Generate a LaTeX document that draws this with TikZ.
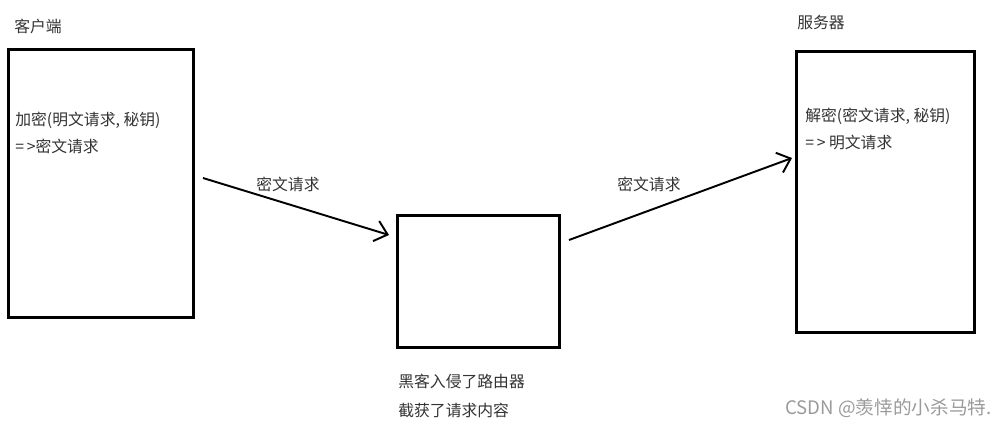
\documentclass[tikz,border=0pt]{standalone}
\usepackage{fontspec}
\setmainfont{Noto Sans CJK SC}
\usetikzlibrary{arrows.meta,calc}
\definecolor{WMGray}{HTML}{9A9A9A}
\definecolor{TxtGray}{HTML}{333333}
\tikzset{
    block/.style = {draw, rectangle, line width=1.6pt, anchor=north west,
        inner sep=0pt},
    txt/.style = {anchor=west, inner sep=0pt, text=TxtGray,
        font=\fontsize{9}{11}\selectfont},
    arrow/.style={draw, line width=1.1pt,
        -{Straight Barb[length=2.4mm,width=4.2mm,line width=1.1pt]}}
}
\begin{document}
\begin{tikzpicture}[x=0.02cm,y=-0.02cm]
  \useasboundingbox (0,0) rectangle (998,426);
  % boxes
  \node[block,minimum width=185*0.02cm,minimum height=268*0.02cm] (client) at (7,48) {};
  \node[block,minimum width=162*0.02cm,minimum height=132*0.02cm] (router) at (396,214) {};
  \node[block,minimum width=178*0.02cm,minimum height=281*0.02cm] (server) at (795,50) {};
  % titles and texts
  \node[txt] (clientname) at (14,26) {客户端};
  \node[txt] (servername) at (797,22) {服务器};
  \node[txt] (enc1) at (15,120) {加密(明文请求, 秘钥)};
  \node[txt] (enc2) at (15,146) {=\,>密文请求};
  \node[txt] (dec1) at (805,116) {解密(密文请求, 秘钥)};
  \node[txt] (dec2) at (805,142) {=\,> 明文请求};
  \node[txt] (hack1) at (398,381) {黑客入侵了路由器};
  \node[txt] (hack2) at (398,410) {截获了请求内容};
  % connectors
  \coordinate (out1) at (203,178);
  \coordinate (in1) at (389,235);
  \coordinate (out2) at (569,240);
  \coordinate (in2) at (792,158);
  \draw[arrow] (out1) -- (in1);
  \draw[arrow] (out2) -- (in2);
  \node[txt] (req1) at (256,184) {密文请求};
  \node[txt] (req2) at (617,184) {密文请求};
  % watermark
  \node[txt,text=WMGray,font=\fontsize{10.6}{12}\selectfont] (mark) at (785,408) {CSDN @羡悻的小杀马特.};
\end{tikzpicture}
\end{document}
